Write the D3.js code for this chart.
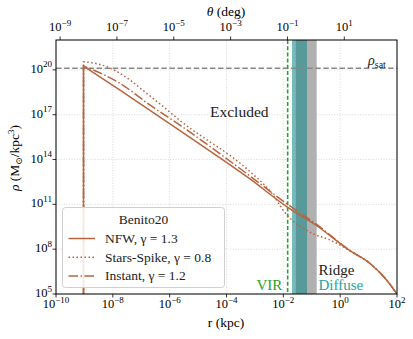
<!DOCTYPE html>
<html>
<head>
<meta charset="utf-8">
<script src="https://cdn.jsdelivr.net/npm/d3@7"></script>
<style>
  body { margin: 0; background: #fff; }
  text { font-family: "Liberation Serif", "DejaVu Serif", serif; }
</style>
</head>
<body>
<svg id="chart" width="413" height="339"></svg>
<script>
// values (r in kpc, rho in Msun/kpc^3)
const nfwR   = [9.3e-10, 1.79e-8, 2.3e-6, 6.7e-4, 1.34e-2, 0.149, 2.2, 11.2, 43, 100];
const nfwRho = [1.8e20, 4.4e18, 8.5e15, 5.0e12, 6.9e10, 3.7e9, 8.0e7, 1.1e7, 8.7e5, 1e5];

const starR   = [9.3e-10, 3.5e-9, 1.19e-8, 4.0e-8, 1.35e-7, 4.6e-7, 2.3e-6, 6.7e-4, 3.4e-3, 1.34e-2, 0.1, 0.44, 2.2, 11.2, 43, 100];
const starRho = [3.5e20, 2.3e20, 9.1e19, 2.1e19, 3.3e18, 5.2e17, 4.1e16, 1.55e13, 7.8e11, 1.95e10, 1.2e9, 4.1e8, 8.0e7, 1.1e7, 8.7e5, 1e5];

const instR   = [9.3e-10, 1.79e-8, 2.0e-7, 2.3e-6, 6.7e-4, 1.34e-2, 0.149, 2.2, 11.2, 43, 100];
const instRho = [1.8e20, 1.26e19, 4.5e17, 2.0e16, 7.9e12, 1.07e11, 4.5e9, 8.0e7, 1.1e7, 8.7e5, 1e5];

const rhoSat = 1.3e20;
const rVir = 0.0142;
const diffuseBand = [0.0201, 0.068];
const ridgeBand = [0.0275, 0.149];

const xTickExp = [-10, -8, -6, -4, -2, 0, 2];
const yTickExp = [5, 8, 11, 14, 17, 20];
const thetaTickExp = [-9, -7, -5, -3, -1, 1];
const degPerKpc = 180 / Math.PI / 8.0;   // theta (deg) = r / 8 kpc

const legendLabels = ["NFW, γ = 1.3", "Stars-Spike, γ = 0.8", "Instant, γ = 1.2"];

const brown = "#b8643e";
const svg = d3.select("#chart");

let x = d3.scaleLog().domain([1e-10, 1e2]).range([56, 397]);
let y = d3.scaleLog().domain([1e5, 1e22]).range([294, 40]);
let xTop = d3.scaleLog().domain([1e-10 * degPerKpc, 1e2 * degPerKpc]).range([56, 397]);

svg.append("clipPath").attr("id", "clip")
    .append("rect").attr("x", 56).attr("y", 40).attr("width", 341).attr("height", 254);

// grid
let grid = svg.append("g").attr("stroke", "#cfcfcf").attr("stroke-width", 0.8).attr("stroke-dasharray", "1,1.6");
xTickExp.forEach(e => grid.append("line").attr("x1", x(Math.pow(10, e))).attr("x2", x(Math.pow(10, e))).attr("y1", 40).attr("y2", 294));
yTickExp.forEach(e => grid.append("line").attr("y1", y(Math.pow(10, e))).attr("y2", y(Math.pow(10, e))).attr("x1", 56).attr("x2", 397));

let plot = svg.append("g").attr("clip-path", "url(#clip)");

// bands
plot.append("rect").attr("x", x(ridgeBand[0])).attr("width", x(ridgeBand[1]) - x(ridgeBand[0]))
    .attr("y", 40).attr("height", 254).attr("fill", "#b0b0b0");
plot.append("rect").attr("x", x(diffuseBand[0])).attr("width", x(diffuseBand[1]) - x(diffuseBand[0]))
    .attr("y", 40).attr("height", 254).attr("fill", "#1e8c8c").attr("fill-opacity", 0.6);

// rho_sat and virial line
plot.append("line").attr("x1", 56).attr("x2", 397).attr("y1", y(rhoSat)).attr("y2", y(rhoSat))
    .attr("stroke", "#888").attr("stroke-width", 1.4).attr("stroke-dasharray", "5.5,2.6");
plot.append("line").attr("x1", x(rVir)).attr("x2", x(rVir)).attr("y1", 40).attr("y2", 294)
    .attr("stroke", "#2ca02c").attr("stroke-width", 1.6).attr("stroke-dasharray", "4,2.2");

// density curves: vertical cut at r_min, then the profile
let line = d3.line().x(d => x(d[0])).y(d => y(d[1])).curve(d3.curveMonotoneX);
function curvePath(rs, rhos) {
    let pts = rs.map((r, i) => [r, rhos[i]]);
    let rest = line(pts);
    return "M" + x(rs[0]) + "," + y(1e5) + "L" + rest.slice(1);
}
const series = [
    {r: starR, rho: starRho, dash: "1.5,2.5"},
    {r: instR, rho: instRho, dash: "9.6,2.4,1.5,2.4"},
    {r: nfwR, rho: nfwRho, dash: null}
];
series.forEach(s => {
    plot.append("path").attr("d", curvePath(s.r, s.rho))
        .attr("fill", "none").attr("stroke", brown).attr("stroke-width", 1.5)
        .attr("stroke-dasharray", s.dash);
});

// frame
svg.append("rect").attr("x", 56).attr("y", 40).attr("width", 341).attr("height", 254)
    .attr("fill", "none").attr("stroke", "#000").attr("stroke-width", 1);

function powLabel(sel, e) {
    sel.append("tspan").text("10");
    sel.append("tspan").attr("dy", -5.5).attr("font-size", 9).text(e < 0 ? "−" + (-e) : e);
}

// bottom ticks
xTickExp.forEach(e => {
    let px = x(Math.pow(10, e));
    svg.append("line").attr("x1", px).attr("x2", px).attr("y1", 294).attr("y2", 297.5).attr("stroke", "#000").attr("stroke-width", 0.8);
    let t = svg.append("text").attr("x", px).attr("y", 308).attr("text-anchor", "middle").attr("font-size", 12.5);
    powLabel(t, e);
});
// top ticks (theta)
thetaTickExp.forEach(e => {
    let px = xTop(Math.pow(10, e));
    svg.append("line").attr("x1", px).attr("x2", px).attr("y1", 40).attr("y2", 36.5).attr("stroke", "#000").attr("stroke-width", 0.8);
    let t = svg.append("text").attr("x", px).attr("y", 31).attr("text-anchor", "middle").attr("font-size", 12.5);
    powLabel(t, e);
});
// left ticks
yTickExp.forEach(e => {
    let py = y(Math.pow(10, e));
    svg.append("line").attr("x1", 56).attr("x2", 52.5).attr("y1", py).attr("y2", py).attr("stroke", "#000").attr("stroke-width", 0.8);
    let t = svg.append("text").attr("x", 52).attr("y", py + 3).attr("text-anchor", "end").attr("font-size", 12.5);
    powLabel(t, e);
});

// axis labels
svg.append("text").attr("x", 226).attr("y", 327).attr("text-anchor", "middle").attr("font-size", 13.5).text("r (kpc)");
let th = svg.append("text").attr("x", 226).attr("y", 15.5).attr("text-anchor", "middle").attr("font-size", 13.5);
th.append("tspan").attr("font-style", "italic").text("θ");
th.append("tspan").text(" (deg)");
let yl = svg.append("text").attr("transform", "translate(19,158) rotate(-90)").attr("text-anchor", "middle").attr("font-size", 13.5);
yl.append("tspan").attr("font-style", "italic").text("ρ");
yl.append("tspan").text(" (M");
yl.append("tspan").attr("font-size", 9).attr("dy", 3).text("⊙");
yl.append("tspan").attr("dy", -3).text("/kpc");
yl.append("tspan").attr("font-size", 9).attr("dy", -5).text("3");
yl.append("tspan").attr("dy", 5).text(")");

// annotations
svg.append("text").attr("x", 210).attr("y", 117).attr("font-size", 15.5).attr("fill", "#222").text("Excluded");
let rs = svg.append("text").attr("x", 368).attr("y", 65).attr("font-size", 14).attr("fill", "#222");
rs.append("tspan").attr("font-style", "italic").text("ρ");
rs.append("tspan").attr("font-size", 10).attr("dy", 3).text("sat");
svg.append("text").attr("x", 256.5).attr("y", 290).attr("font-size", 15).attr("fill", "#2ca02c").text("VIR");
svg.append("text").attr("x", 318.5).attr("y", 274.5).attr("font-size", 15).attr("fill", "#222").text("Ridge");
svg.append("text").attr("x", 318.5).attr("y", 290).attr("font-size", 15).attr("fill", "#26a3a3").text("Diffuse");

// legend
let lg = svg.append("g");
lg.append("rect").attr("x", 62.5).attr("y", 207.5).attr("width", 162).attr("height", 80).attr("rx", 3)
    .attr("fill", "#fff").attr("fill-opacity", 0.85).attr("stroke", "#d0d0d0").attr("stroke-width", 1);
lg.append("text").attr("x", 143.5).attr("y", 223.5).attr("text-anchor", "middle").attr("font-size", 13.5).attr("fill", "#222").text("Benito20");
const legendDash = [null, "1.5,2.5", "9.6,2.4,1.5,2.4"];
legendLabels.forEach((lab, i) => {
    let ly = 238.5 + i * 18.7;
    lg.append("line").attr("x1", 68.5).attr("x2", 95).attr("y1", ly).attr("y2", ly)
        .attr("stroke", brown).attr("stroke-width", 1.5).attr("stroke-dasharray", legendDash[i]);
    lg.append("text").attr("x", 105).attr("y", ly + 4.5).attr("font-size", 13.5).attr("fill", "#222").text(lab);
});
</script>
</body>
</html>
